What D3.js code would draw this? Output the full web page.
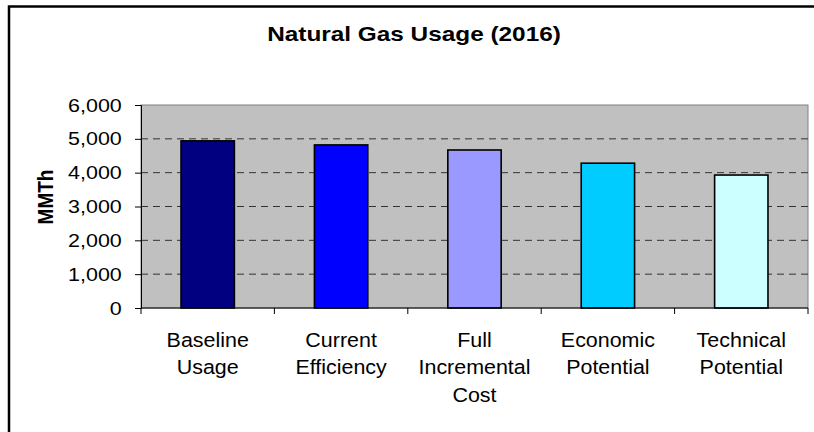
<!DOCTYPE html>
<html>
<head>
<meta charset="utf-8">
<style>
  body { margin: 0; background: #fff; }
  svg text { font-family: "Liberation Sans", Arial, sans-serif; fill: #000; }
</style>
</head>
<body>
<svg width="814" height="432"></svg>
<script src="https://d3js.org/d3.v7.min.js"></script>
<script>

// chart data
var categories = ["Baseline Usage", "Current Efficiency", "Full Incremental Cost", "Economic Potential", "Technical Potential"];
var labelLines = [["Baseline", "Usage"], ["Current", "Efficiency"], ["Full", "Incremental", "Cost"], ["Economic", "Potential"], ["Technical", "Potential"]];
var usage = [4940, 4820, 4670, 4280, 3930];
var barColors = ["#000080", "#0000ff", "#9999ff", "#00ccff", "#ccffff"];
var yTicks = [0, 1000, 2000, 3000, 4000, 5000, 6000];

var svg = d3.select("svg"),
    plot = {left: 141, right: 808, top: 105, bottom: 308};

// outer chart border (right and bottom fall outside the picture)
svg.append("rect")
    .attr("x", 9).attr("y", 6.5)
    .attr("width", 900).attr("height", 600)
    .attr("fill", "none")
    .attr("stroke", "#000")
    .attr("stroke-width", 2.5);

var x = d3.scaleBand()
    .domain(categories)
    .range([plot.left, plot.right])
    .paddingInner(0.6)
    .paddingOuter(0.3);

var y = d3.scaleLinear()
    .domain([0, 6000])
    .range([plot.bottom, plot.top]);

// grey plot area
svg.append("rect")
    .attr("x", plot.left).attr("y", plot.top)
    .attr("width", plot.right - plot.left)
    .attr("height", plot.bottom - plot.top)
    .attr("fill", "#c0c0c0")
    .attr("stroke", "#808080")
    .attr("stroke-width", 1);

// dashed gridlines
svg.append("g").selectAll("line")
    .data(yTicks.filter(function(d) { return d > 0 && d < 6000; }))
  .enter().append("line")
    .attr("x1", plot.left).attr("x2", plot.right)
    .attr("y1", function(d) { return y(d); })
    .attr("y2", function(d) { return y(d); })
    .attr("stroke", "#333")
    .attr("stroke-width", 1)
    .attr("stroke-dasharray", "7,5");

// bars
svg.append("g").selectAll("rect")
    .data(usage)
  .enter().append("rect")
    .attr("x", function(d, i) { return x(categories[i]); })
    .attr("y", function(d) { return y(d); })
    .attr("width", x.bandwidth())
    .attr("height", function(d) { return y(0) - y(d); })
    .attr("fill", function(d, i) { return barColors[i]; })
    .attr("stroke", "#000")
    .attr("stroke-width", 1.6);

// y axis
var yAxis = svg.append("g")
    .attr("transform", "translate(" + plot.left + ",0)")
    .call(d3.axisLeft(y).tickValues(yTicks).tickSize(6).tickPadding(11).tickFormat(d3.format(",")));
yAxis.select(".domain").attr("stroke", "#000");
yAxis.selectAll("line").attr("stroke", "#000");
yAxis.selectAll("text")
    .attr("font-size", 19)
    .attr("font-family", "Liberation Sans, Arial, sans-serif")
    .attr("transform", "scale(1.13,1)");

// x axis line with ticks between categories
svg.append("line")
    .attr("x1", plot.left).attr("x2", plot.right)
    .attr("y1", plot.bottom).attr("y2", plot.bottom)
    .attr("stroke", "#000");
var step = x.step();
svg.append("g").selectAll("line")
    .data(d3.range(categories.length + 1))
  .enter().append("line")
    .attr("x1", function(i) { return plot.left + i * step; })
    .attr("x2", function(i) { return plot.left + i * step; })
    .attr("y1", plot.bottom)
    .attr("y2", plot.bottom + 6)
    .attr("stroke", "#000");

// category labels
var labels = svg.append("g").selectAll("text")
    .data(categories)
  .enter().append("text")
    .attr("transform", function(d) {
      return "translate(" + (x(d) + x.bandwidth() / 2) + ",347) scale(1.1,1)";
    })
    .attr("text-anchor", "middle")
    .attr("font-size", 19.5);
labels.each(function(d, i) {
  d3.select(this).selectAll("tspan")
      .data(labelLines[i])
    .enter().append("tspan")
      .attr("x", 0)
      .attr("y", function(t, j) { return j * 27.5; })
      .text(function(t) { return t; });
});

// title
svg.append("text")
    .attr("transform", "translate(414,41) scale(1.16,1)")
    .attr("text-anchor", "middle")
    .attr("font-size", 21)
    .attr("font-weight", "bold")
    .text("Natural Gas Usage (2016)");

// y axis title
svg.append("text")
    .attr("transform", "translate(45,197) scale(1.15,1) rotate(-90)")
    .attr("text-anchor", "middle")
    .attr("dy", "0.36em")
    .attr("font-size", 19)
    .attr("font-weight", "bold")
    .text("MMTh");

</script>
</body>
</html>
